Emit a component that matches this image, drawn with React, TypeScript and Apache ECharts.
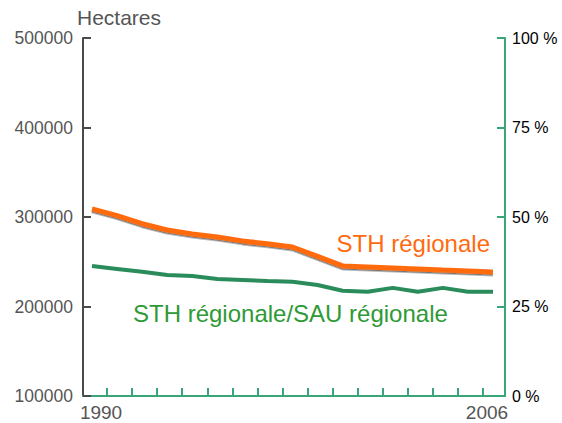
import React, { useEffect, useRef } from "react";
import * as echarts from "echarts";

const years = [1990, 1991, 1992, 1993, 1994, 1995, 1996, 1997, 1998, 1999, 2000, 2001, 2002, 2003, 2004, 2005, 2006];
const sthHectares = [309000, 301500, 292500, 285500, 281000, 277700, 273300, 270000, 266500, 256000, 245300, 244200, 243100, 242000, 240800, 239700, 238600];
const sthShare = [36.3, 35.5, 34.7, 33.8, 33.5, 32.7, 32.4, 32.1, 31.9, 31.0, 29.4, 29.1, 30.2, 29.1, 30.2, 29.1, 29.1];
const leftTicks = [100000, 200000, 300000, 400000, 500000];
const rightTicks = [0, 25, 50, 75, 100];
const xTickValues = [1990.6, 1991.6, 1992.6, 1993.6, 1994.6, 1995.6, 1996.6, 1997.6, 1998.6, 1999.6, 2000.6, 2001.6, 2002.6, 2003.6, 2004.6, 2005.6];
const xLabelValues = [1990.36, 2005.76];
const leftName = "Hectares";
const sthLabel = "STH régionale";
const ratioLabel = "STH régionale/SAU régionale";

const ORANGE = "#ff6a10";
const GREEN_LINE = "#2a8c5a";
const GREEN_AXIS = "#3aa677";
const GREEN_TEXT = "#2e9a35";
const GRAY = "#555555";
const FONT = "'Liberation Sans', Arial, sans-serif";

export default function App() {
  const ref = useRef<HTMLDivElement>(null);
  useEffect(() => {
    if (!ref.current) return;
    const chart = echarts.init(ref.current, undefined, { renderer: "svg" });
    chart.setOption({
      animation: false,
      backgroundColor: "#ffffff",
      grid: { left: 83, right: 57, top: 38, bottom: 27 },
      xAxis: {
        type: "value",
        min: 1989.64,
        max: 2006.48,
        splitLine: { show: false },
        axisLine: { show: true, lineStyle: { color: GREEN_AXIS, width: 2 } },
        axisTick: {
          show: true,
          inside: true,
          length: 8,
          customValues: xTickValues,
          lineStyle: { color: GREEN_AXIS, width: 2 },
        },
        axisLabel: {
          customValues: xLabelValues,
          formatter: (v: number) => String(Math.round(v)),
          color: GRAY,
          fontFamily: FONT,
          fontSize: 19,
          margin: 7,
        },
      },
      yAxis: [
        {
          type: "value",
          min: leftTicks[0],
          max: leftTicks[leftTicks.length - 1],
          interval: 100000,
          position: "left",
          name: leftName,
          nameLocation: "end",
          nameGap: 10,
          nameTextStyle: { color: GRAY, fontFamily: FONT, fontSize: 21, align: "left", padding: [0, 0, 0, -6] },
          splitLine: { show: false },
          axisLine: { show: true, lineStyle: { color: "#4a4a4a", width: 2 } },
          axisTick: { show: true, inside: true, length: 8, lineStyle: { color: "#4a4a4a", width: 2 } },
          axisLabel: {
            color: GRAY,
            fontFamily: FONT,
            fontSize: 17.5,
            margin: 10,
            formatter: (v: number) => String(v),
          },
        },
        {
          type: "value",
          min: rightTicks[0],
          max: rightTicks[rightTicks.length - 1],
          interval: 25,
          position: "right",
          splitLine: { show: false },
          axisLine: { show: true, lineStyle: { color: GREEN_AXIS, width: 2 } },
          axisTick: { show: true, inside: true, length: 8, lineStyle: { color: GREEN_AXIS, width: 2 } },
          axisLabel: { color: "#000000", fontFamily: FONT, fontSize: 16, margin: 7, formatter: "{value} %" },
        },
      ],
      graphic: [
        {
          type: "text",
          right: 562 - 490,
          top: 231,
          style: { text: sthLabel, fill: ORANGE, font: `24px ${FONT}` },
        },
        {
          type: "text",
          left: 133,
          top: 301,
          style: { text: ratioLabel, fill: GREEN_TEXT, font: `24px ${FONT}` },
        },
      ],
      series: [
        {
          type: "line",
          yAxisIndex: 1,
          data: years.map((y, i) => [y, sthShare[i]]),
          symbol: "none",
          lineStyle: { color: GREEN_LINE, width: 4 },
        },
        {
          type: "line",
          yAxisIndex: 0,
          data: years.map((y, i) => [y, sthHectares[i]]),
          symbol: "none",
          lineStyle: {
            color: ORANGE,
            width: 5,
            shadowColor: "rgba(0,0,0,0.55)",
            shadowBlur: 0,
            shadowOffsetY: 1.5,
          },
        },
      ],
    });
    return () => chart.dispose();
  }, []);
  return (
    <div
      ref={ref}
      style={{ position: "fixed", left: 0, top: 0, width: 562, height: 423, background: "#fff" }}
    />
  );
}
